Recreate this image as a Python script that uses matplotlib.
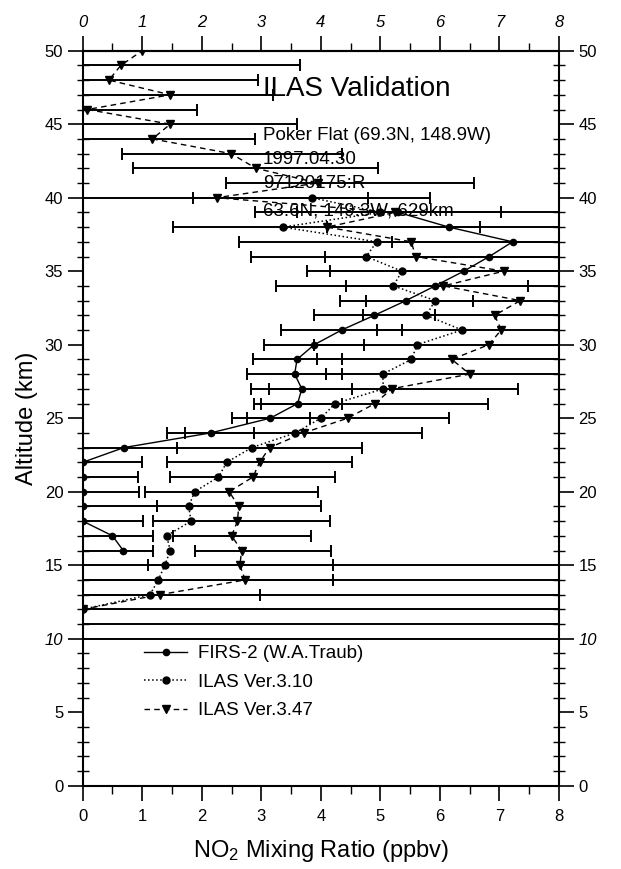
from matplotlib import pyplot as plt
import numpy as np

nan = np.nan

# FIRS-2 balloon profile (km, ppbv) with error bar bounds
firs_alt = [16, 17, 18, 19, 20, 21, 22, 23, 24, 25, 26, 27,
            28, 29, 30, 31, 32, 33, 34, 35, 36, 37, 38, 39]
firs_val = [0.68, 0.50, 0.00, 0.00, 0.00, 0.00, 0.00, 0.69, 2.15, 3.15, 3.61, 3.68,
            3.56, 3.60, 3.89, 4.35, 4.90, 5.43, 5.92, 6.40, 6.83, 7.22, 6.15, 5.30]
firs_lo = [0.00, 0.00, 0.00, 0.00, 0.00, 0.00, 0.00, 0.00, 1.41, 2.50, 2.87, 2.83,
           2.76, 2.86, 3.04, 3.33, 3.89, 4.32, 4.42, 4.15, 4.07, 5.19, 4.10, 3.60]
firs_hi = [1.18, 1.18, 1.02, 1.24, 0.95, 0.93, 0.99, 1.58, 2.88, 3.81, 4.35, 4.52,
           4.36, 4.35, 4.72, 5.36, 5.92, 6.56, 7.48, 8.70, 9.60, 9.30, 8.20, 7.02]

# ILAS altitude grid 10..50 km
ilas_alt = [10, 11, 12, 13, 14, 15, 16, 17, 18, 19,
            20, 21, 22, 23, 24, 25, 26, 27, 28, 29,
            30, 31, 32, 33, 34, 35, 36, 37, 38, 39,
            40, 41, 42, 43, 44, 45, 46, 47, 48, 49, 50]

v310_val = [nan, nan, 0.00, 1.13, 1.27, 1.38, 1.47, 1.41, 1.82, 1.78,
            1.88, 2.28, 2.42, 2.84, 3.57, 4.00, 4.24, 5.05, 5.04, 5.52,
            5.62, 6.37, 5.77, 5.92, 5.22, 5.36, 4.76, 4.94, 3.36, 5.00,
            3.85, nan, nan, nan, nan, nan, nan, nan, nan, nan, nan]
v310_lo = [nan, nan, nan, -1.0, -1.0, 1.09, nan, nan, nan, nan,
           nan, nan, nan, nan, nan, nan, nan, nan, nan, nan,
           nan, nan, nan, nan, nan, nan, nan, nan, nan, nan,
           1.86, nan, nan, nan, nan, nan, nan, nan, nan, nan, nan]
v310_hi = [nan, nan, nan, 2.98, 4.21, 9.00, nan, nan, nan, nan,
           nan, nan, nan, nan, nan, nan, nan, nan, nan, nan,
           nan, nan, nan, nan, nan, nan, nan, nan, nan, nan,
           5.84, nan, nan, nan, nan, nan, nan, nan, nan, nan, nan]

v347_val = [nan, nan, 0.00, 1.30, 2.73, 2.64, 2.67, 2.50, 2.60, 2.62,
            2.46, 2.86, 2.97, 3.14, 3.71, 4.45, 4.91, 5.19, 6.50, 6.20,
            6.82, 7.03, 6.92, 7.35, 6.06, 7.07, 5.59, 5.52, 4.10, 5.25,
            2.25, 3.95, 2.91, 2.49, 1.17, 1.47, 0.08, 1.47, 0.44, 0.64, 1.00]
v347_lo = [-3.0, -3.0, -3.0, -1.0, -1.0, -1.0, 1.89, 1.52, 1.18, 1.24,
           1.05, 1.46, 1.42, 1.58, 1.72, 2.76, 3.00, 3.13, 4.08, 3.93,
           3.89, 4.94, 4.71, 4.76, 3.25, 3.76, 2.83, 2.62, 1.52, 2.90,
           0.00, 2.40, 0.85, 0.66, -1.0, -1.0, -1.0, -1.0, -1.0, -1.0, nan]
v347_hi = [9.00, 9.00, 9.00, 9.00, 9.00, 4.21, 4.17, 3.83, 4.16, 4.00,
           3.95, 4.24, 4.52, 4.69, 5.70, 6.15, 6.81, 7.31, 9.00, 9.00,
           9.00, 9.00, 9.00, 9.00, 9.00, 9.00, 9.00, 9.00, 6.68, 9.00,
           4.80, 6.58, 4.96, 4.35, 2.90, 3.60, 1.92, 3.20, 2.95, 3.65, nan]

info_lines = ["Poker Flat (69.3N, 148.9W)", "1997.04.30", "97120175:R", "63.6N, 149.3W, 629km"]
info_alt = [44.2, 42.6, 41.0, 39.1]

plt.rcParams['font.family'] = ['Liberation Sans', 'DejaVu Sans']
plt.rcParams['mathtext.default'] = 'regular'


def draw_bars(ax, alt, lo, hi) -> None:
    alt = np.asarray(alt, dtype=float)
    lo = np.asarray(lo, dtype=float)
    hi = np.asarray(hi, dtype=float)
    ok = ~np.isnan(lo)
    ax.hlines(alt[ok], lo[ok], hi[ok], color='black', lw=1.4, zorder=2)
    for end in (lo[ok], hi[ok]):
        ax.plot(end, alt[ok], ls='none', marker='|', ms=8, mew=1.4, color='black', zorder=2)


fig = plt.figure(figsize=(6.21, 8.69), dpi=100)
ax = fig.add_axes([82.7 / 621, 1 - 785.7 / 869, (559 - 82.7) / 621, (785.7 - 50.7) / 869])

# error bars
draw_bars(ax, firs_alt, firs_lo, firs_hi)
draw_bars(ax, ilas_alt, v310_lo, v310_hi)
draw_bars(ax, ilas_alt, v347_lo, v347_hi)

# profiles
ax.plot(firs_val, firs_alt, color='black', ls='-', lw=1.0, marker='o', ms=4.5,
        label='FIRS-2 (W.A.Traub)', zorder=3)
ax.plot(v310_val, ilas_alt, color='black', ls=':', lw=1.1, marker='o', ms=5,
        label='ILAS Ver.3.10', zorder=3)
ax.plot(v347_val, ilas_alt, color='black', ls=(0, (4, 3)), lw=1.0, marker='v', ms=5.5,
        label='ILAS Ver.3.47', zorder=3)

# axes
ax.set_xlim(0, 8)
ax.set_ylim(0, 50)
ax.set_xticks(range(0, 9))
ax.set_xticks(np.arange(0.5, 8, 1.0), minor=True)
ax.set_yticks(range(0, 51, 5))
ax.set_yticks(range(0, 51), minor=True)

ax.tick_params(axis='both', which='major', direction='out', length=11, width=1.2,
               labelsize=12, right=True, labelright=True)
ax.tick_params(axis='x', which='major', pad=6)
ax.tick_params(axis='y', which='major', pad=3)
ax.tick_params(axis='x', which='minor', direction='out', length=6, width=1.0)
ax.tick_params(axis='y', which='minor', direction='inout', length=9, width=1.0, right=True)

# top axis with its own (tighter) label spacing, italic digits
top = ax.secondary_xaxis('top')
top.set_xticks(range(0, 9))
top.set_xticks(np.arange(0.5, 8, 1.0), minor=True)
top.tick_params(which='major', direction='out', length=11, width=1.2, labelsize=12, pad=4)
top.tick_params(which='minor', direction='out', length=6, width=1.0)
for lbl in top.get_xticklabels():
    lbl.set_fontstyle('italic')

for spine in list(ax.spines.values()) + list(top.spines.values()):
    spine.set_linewidth(1.5)

# the 10 km labels are italic in the original
for tick, val in zip(ax.yaxis.get_major_ticks(), ax.get_yticks()):
    if val == 10:
        tick.label1.set_fontstyle('italic')
        tick.label2.set_fontstyle('italic')

ax.set_xlabel(r'NO$_2$ Mixing Ratio (ppbv)', fontsize=17, labelpad=10)
ax.set_ylabel('Altitude (km)', fontsize=17, labelpad=5)

# annotations
ax.text(3.03, 47.4, 'ILAS Validation', fontsize=20, ha='left', va='center', zorder=4)
for line, y in zip(info_lines, info_alt):
    ax.text(3.03, y, line, fontsize=13.5, ha='left', va='center', zorder=4)

ax.legend(loc='upper left', bbox_to_anchor=(1.03, 9.55), bbox_transform=ax.transData,
          frameon=False, fontsize=13.5, handlelength=2.3, handletextpad=0.6,
          labelspacing=0.6, borderpad=0, borderaxespad=0, numpoints=1)

plt.savefig('out.png', dpi=100)
